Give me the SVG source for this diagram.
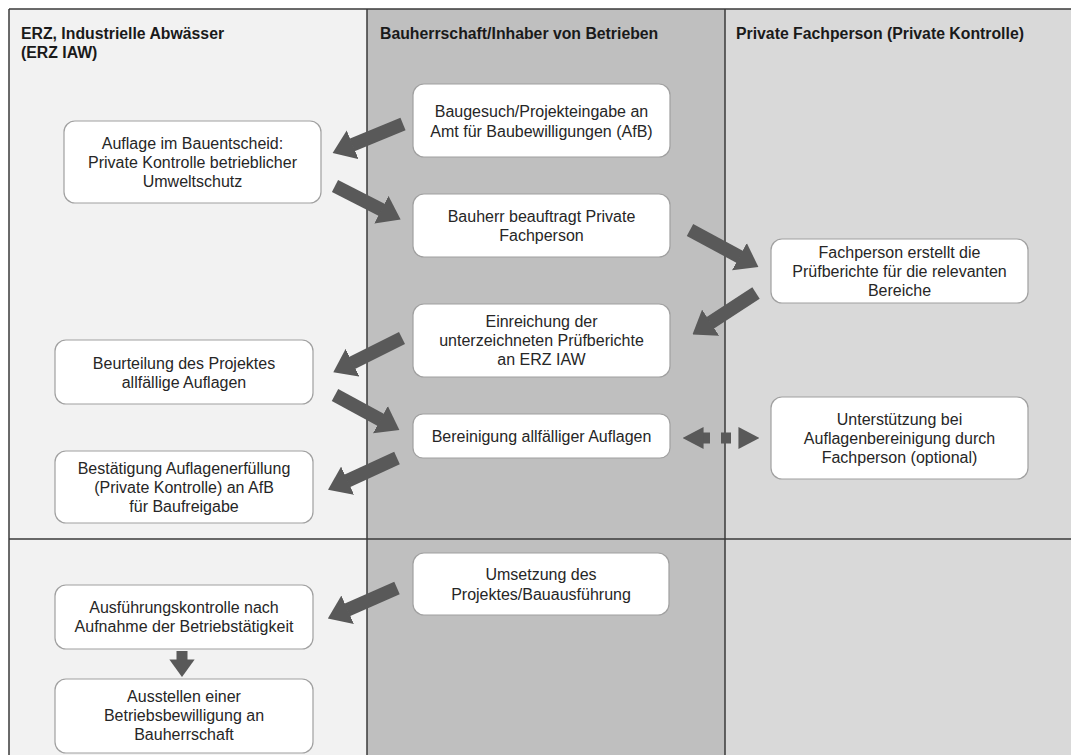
<svg xmlns="http://www.w3.org/2000/svg" width="1071" height="755" viewBox="0 0 1071 755">
<style>
.hdr{font-family:"Liberation Sans",Arial,sans-serif;font-size:15.8px;font-weight:bold;fill:#1a1a1a}
.box{fill:#ffffff;stroke:#a0a0a0;stroke-width:1.2}
.t{font-family:"Liberation Sans",Arial,sans-serif;font-size:16px;fill:#262626;text-anchor:middle}
.frame{stroke:#3a3a3a;stroke-width:1.5;fill:none}
.arr{stroke:#595959;stroke-width:13.5;fill:none;marker-end:url(#ah)}
</style>
<defs>
<marker id="ah" viewBox="0 0 1.6 2.3" markerWidth="1.6" markerHeight="2.3" refX="0.05" refY="1.15" orient="auto" markerUnits="strokeWidth">
<path d="M0,0 L1.6,1.15 L0,2.3 z" fill="#595959"/>
</marker>
<marker id="ah2" viewBox="0 0 1.9 2" markerWidth="1.9" markerHeight="2" refX="0.05" refY="1" orient="auto-start-reverse" markerUnits="strokeWidth">
<path d="M0,0 L1.9,1 L0,2 z" fill="#595959"/>
</marker>
</defs>
<rect x="0" y="0" width="1071" height="755" fill="#ffffff"/>
<g id="lanes">
<rect x="9" y="9" width="358" height="746" fill="#f2f2f2"/>
<rect x="367" y="9" width="358" height="746" fill="#bfbfbf"/>
<rect x="725" y="9" width="346" height="746" fill="#d9d9d9"/>
<line class="frame" x1="9" y1="9" x2="1071" y2="9"/>
<line class="frame" x1="9" y1="9" x2="9" y2="755"/>
<line class="frame" x1="367" y1="9" x2="367" y2="755"/>
<line class="frame" x1="725" y1="9" x2="725" y2="755"/>
<line class="frame" x1="9" y1="539" x2="1071" y2="539"/>
<text class="hdr" x="21" y="39">ERZ, Industrielle Abwässer</text>
<text class="hdr" x="21" y="58">(ERZ IAW)</text>
<text class="hdr" x="380" y="39">Bauherrschaft/Inhaber von Betrieben</text>
<text class="hdr" x="736" y="39">Private Fachperson (Private Kontrolle)</text>
</g>
<g id="connectors">
<line class="arr" x1="403" y1="124" x2="352" y2="145"/>
<line class="arr" x1="335" y1="186" x2="382" y2="210"/>
<line class="arr" x1="690" y1="230" x2="740" y2="257"/>
<line class="arr" x1="756" y1="293" x2="710" y2="323"/>
<line class="arr" x1="402" y1="338" x2="352" y2="363"/>
<line class="arr" x1="335" y1="395" x2="381" y2="420"/>
<line class="arr" x1="397" y1="458" x2="347" y2="481"/>
<line class="arr" x1="397" y1="588" x2="347" y2="610"/>
<line class="arr" style="stroke-width:11" x1="182" y1="651" x2="182" y2="660"/>
<line x1="703" y1="438" x2="739" y2="438" stroke="#595959" stroke-width="11" stroke-dasharray="7 11 10 8" marker-start="url(#ah2)" marker-end="url(#ah2)"/>
</g>
<g id="n-auflage">
<rect class="box" x="64" y="121" width="257" height="82" rx="11"/>
<text class="t" x="192.5" y="148.5">Auflage im Bauentscheid:</text>
<text class="t" x="192.5" y="167.5">Private Kontrolle betrieblicher</text>
<text class="t" x="192.5" y="186.5">Umweltschutz</text>
</g>
<g id="n-baugesuch">
<rect class="box" x="413" y="84" width="257" height="73" rx="11"/>
<text class="t" x="541.5" y="117">Baugesuch/Projekteingabe  an</text>
<text class="t" x="541.5" y="137">Amt für Baubewilligungen  (AfB)</text>
</g>
<g id="n-bauherr">
<rect class="box" x="413" y="194" width="257" height="63" rx="11"/>
<text class="t" x="541.5" y="221.5">Bauherr  beauftragt Private</text>
<text class="t" x="541.5" y="241">Fachperson</text>
</g>
<g id="n-fachperson">
<rect class="box" x="771" y="239" width="257" height="64" rx="11"/>
<text class="t" x="899.5" y="257.5">Fachperson  erstellt die</text>
<text class="t" x="899.5" y="276.5">Prüfberichte  für die relevanten</text>
<text class="t" x="899.5" y="295.5">Bereiche</text>
</g>
<g id="n-einreichung">
<rect class="box" x="413" y="304" width="257" height="73" rx="11"/>
<text class="t" x="541.5" y="327">Einreichung  der</text>
<text class="t" x="541.5" y="346">unterzeichneten  Prüfberichte</text>
<text class="t" x="541.5" y="365">an ERZ IAW</text>
</g>
<g id="n-beurteilung">
<rect class="box" x="55" y="340" width="258" height="64" rx="11"/>
<text class="t" x="184" y="368.5">Beurteilung des Projektes</text>
<text class="t" x="184" y="388">allfällige  Auflagen</text>
</g>
<g id="n-bereinigung">
<rect class="box" x="413" y="414" width="257" height="44" rx="10"/>
<text class="t" x="541.5" y="441.5">Bereinigung  allfälliger  Auflagen</text>
</g>
<g id="n-bestaetigung">
<rect class="box" x="55" y="451" width="258" height="72" rx="11"/>
<text class="t" x="184" y="473.5">Bestätigung Auflagenerfüllung</text>
<text class="t" x="184" y="492.5">(Private Kontrolle) an AfB</text>
<text class="t" x="184" y="511.5">für Baufreigabe</text>
</g>
<g id="n-unterstuetzung">
<rect class="box" x="771" y="397" width="257" height="82" rx="11"/>
<text class="t" x="899.5" y="424.5">Unterstützung bei</text>
<text class="t" x="899.5" y="443.5">Auflagenbereinigung  durch</text>
<text class="t" x="899.5" y="462.5">Fachperson  (optional)</text>
</g>
<g id="n-umsetzung">
<rect class="box" x="413" y="553" width="256" height="62" rx="11"/>
<text class="t" x="541" y="580">Umsetzung des</text>
<text class="t" x="541" y="599.5">Projektes/Bauausführung</text>
</g>
<g id="n-ausfuehrung">
<rect class="box" x="55" y="585" width="258" height="64" rx="11"/>
<text class="t" x="184" y="612.5">Ausführungskontrolle  nach</text>
<text class="t" x="184" y="632">Aufnahme  der Betriebstätigkeit</text>
</g>
<g id="n-ausstellen">
<rect class="box" x="55" y="679" width="258" height="74" rx="11"/>
<text class="t" x="184" y="702">Ausstellen einer</text>
<text class="t" x="184" y="721">Betriebsbewilligung  an</text>
<text class="t" x="184" y="740">Bauherrschaft</text>
</g>
</svg>
